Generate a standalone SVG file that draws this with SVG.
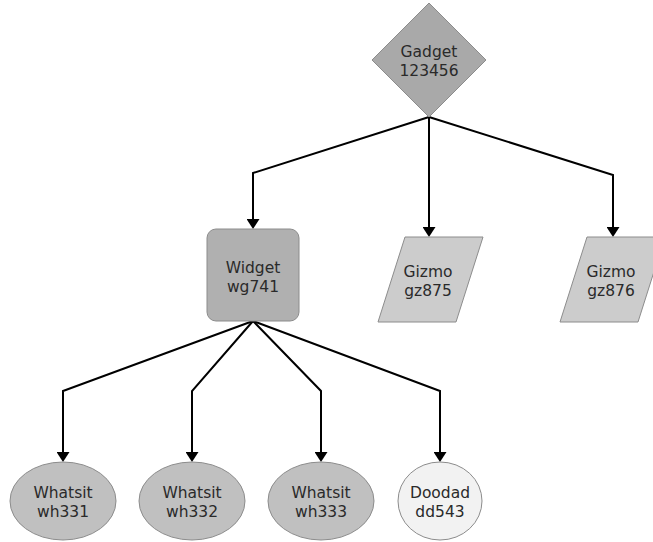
<svg xmlns="http://www.w3.org/2000/svg" width="653" height="542" viewBox="0 0 653 542">
<defs>
<marker id="arr" viewBox="0 0 10 13" refX="6" refY="6.5" markerWidth="10" markerHeight="13" markerUnits="userSpaceOnUse" orient="auto">
<path d="M0,0 L10,6.5 L0,13 z" fill="#000"/>
</marker>
<style>
.lbl{font-family:"DejaVu Sans",Verdana,sans-serif;font-size:15.5px;fill:#2a2a2a;text-anchor:middle}
.edge{fill:none;stroke:#000;stroke-width:2;marker-end:url(#arr)}
.shape{stroke:#8c8c8c;stroke-width:1}
</style>
</defs>
<rect width="653" height="542" fill="#fff"/>
<g id="connectors">
<path class="edge" d="M429,117 L253,173 L253,225"/>
<path class="edge" d="M429,117 L429,233"/>
<path class="edge" d="M429,117 L613,175 L613,233"/>
<path class="edge" d="M253,321 L63,391 L63,458"/>
<path class="edge" d="M253,321 L192,391 L192,458"/>
<path class="edge" d="M253,321 L321,391 L321,458"/>
<path class="edge" d="M253,321 L440,391 L440,458"/>
</g>
<g id="gadget">
<polygon class="shape" points="429,3 486,60 429,117 372,60" fill="#a9a9a9"/>
<text class="lbl" x="429" y="57">Gadget</text>
<text class="lbl" x="429" y="76">123456</text>
</g>
<g id="widget">
<rect class="shape" x="207" y="229" width="92" height="92" rx="9" fill="#b0b0b0"/>
<text class="lbl" x="253" y="273">Widget</text>
<text class="lbl" x="253" y="292">wg741</text>
</g>
<g id="gizmo875">
<polygon class="shape" points="405,237 483,237 456,322 378,322" fill="#cccccc"/>
<text class="lbl" x="428" y="277">Gizmo</text>
<text class="lbl" x="428" y="296">gz875</text>
</g>
<g id="gizmo876">
<polygon class="shape" points="587,237 665,237 638,322 560,322" fill="#cccccc"/>
<text class="lbl" x="611" y="277">Gizmo</text>
<text class="lbl" x="611" y="296">gz876</text>
</g>
<g id="wh331">
<ellipse class="shape" cx="63" cy="501" rx="53" ry="39" fill="#c0c0c0"/>
<text class="lbl" x="63" y="498">Whatsit</text>
<text class="lbl" x="63" y="517">wh331</text>
</g>
<g id="wh332">
<ellipse class="shape" cx="192" cy="501" rx="53" ry="39" fill="#c0c0c0"/>
<text class="lbl" x="192" y="498">Whatsit</text>
<text class="lbl" x="192" y="517">wh332</text>
</g>
<g id="wh333">
<ellipse class="shape" cx="321" cy="501" rx="53" ry="39" fill="#c0c0c0"/>
<text class="lbl" x="321" y="498">Whatsit</text>
<text class="lbl" x="321" y="517">wh333</text>
</g>
<g id="dd543">
<ellipse class="shape" cx="440" cy="501" rx="42" ry="39" fill="#f2f2f2"/>
<text class="lbl" x="440" y="498">Doodad</text>
<text class="lbl" x="440" y="517">dd543</text>
</g>
</svg>
